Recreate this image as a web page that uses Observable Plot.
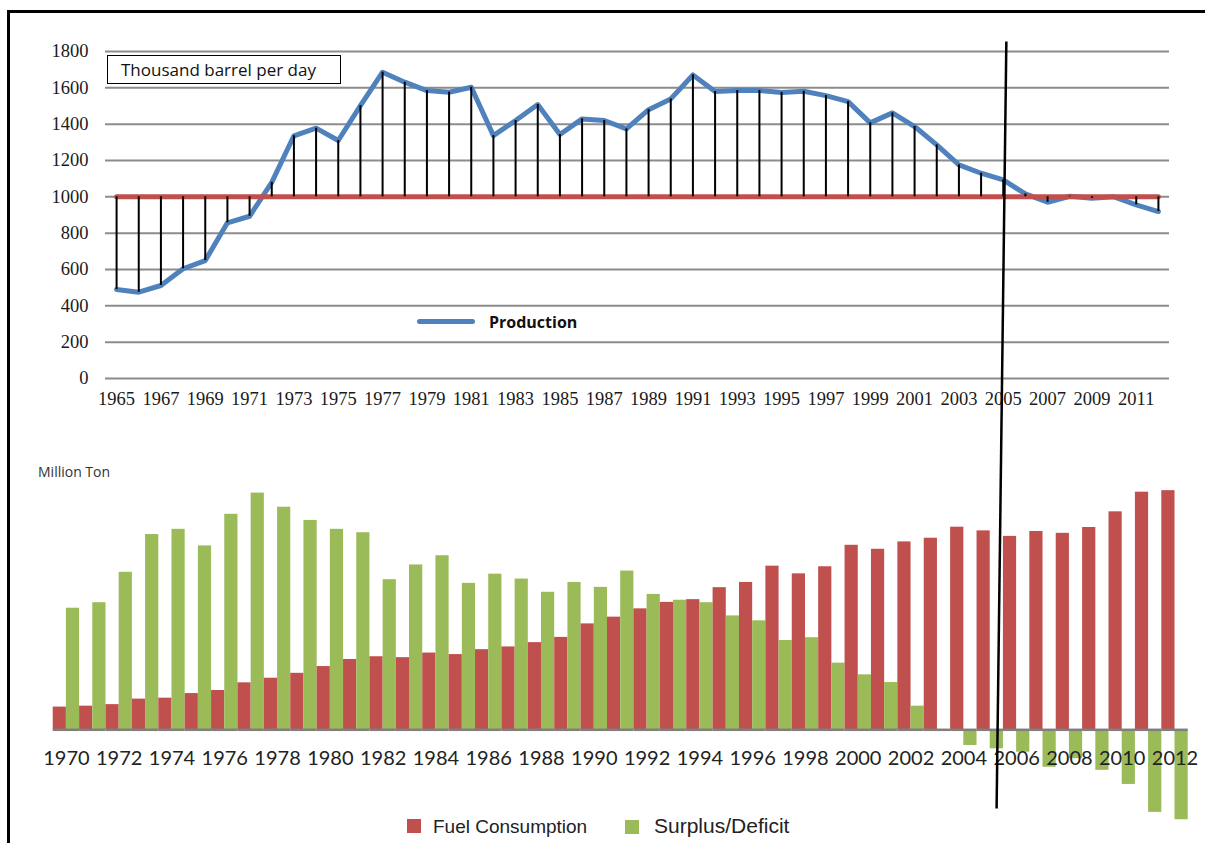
<!DOCTYPE html>
<html><head><meta charset="utf-8">
<script src="https://cdn.jsdelivr.net/npm/d3@7"></script>
<script src="https://cdn.jsdelivr.net/npm/@observablehq/plot@0.6"></script>
<style>
body{margin:0;background:#fff}
#page{position:relative;width:1205px;height:843px;overflow:hidden;background:#fff}
.abs{position:absolute;white-space:nowrap}
</style></head><body>
<div id="page">
  <div class="abs" style="left:7px;top:10px;width:1300px;height:900px;border-left:3px solid #000;border-top:3px solid #000;box-sizing:border-box"></div>
  <div id="bottom" class="abs" style="left:0;top:450px;z-index:1"></div>
  <div id="top" class="abs" style="left:0;top:0;z-index:2"></div>
  <div class="abs" style="left:107px;top:55px;width:234px;height:29px;border:1px solid #000;box-sizing:border-box;background:#fff;z-index:3"></div>
  <div class="abs" style="left:121px;top:60.5px;font:17px/17px 'Open Sans';color:#111;z-index:4">Thousand barrel per day</div>
  <div class="abs" style="left:417px;top:318.5px;width:58px;height:5px;border-radius:2.5px;background:#4f81bd;z-index:4"></div>
  <div class="abs" style="left:489px;top:313.5px;font:bold 16px/16px 'Open Sans';color:#111;z-index:4">Production</div>
  <div class="abs" style="left:38px;top:464.5px;font:14px/14px 'Open Sans';color:#333;z-index:4">Million Ton</div>
  <div class="abs" style="left:407px;top:819px;width:14px;height:14px;background:#c0504d;z-index:4"></div>
  <div class="abs" style="left:433px;top:817px;font:19px/19px 'Liberation Sans';color:#222;z-index:4">Fuel Consumption</div>
  <div class="abs" style="left:625px;top:820px;width:14px;height:14px;background:#9bbb59;z-index:4"></div>
  <div class="abs" style="left:654px;top:815px;font:21px/21px 'Liberation Sans';color:#222;z-index:4">Surplus/Deficit</div>
</div>
<script>
// ---- Top chart data (thousand barrel per day) ----
const prodYears = d3.range(1965, 2013);
const production = [490, 475, 512, 604, 649, 857, 893, 1080, 1336, 1378,
  1310, 1502, 1686, 1631, 1585, 1576, 1603, 1337, 1420, 1508,
  1343, 1429, 1420, 1374, 1480, 1539, 1671, 1580, 1585, 1585,
  1574, 1581, 1557, 1524, 1407, 1462, 1387, 1286, 1176, 1130,
  1093, 1016, 970, 1003, 992, 1000, 956, 919];
const benchmark = 1000;
const topXTicks = d3.range(1965, 2012, 2);
const topYTicks = d3.range(0, 1801, 200);
// annotation divider line (x in years, y in top chart units)
const dividerLine = [{x1: 2005.14, y1: 1855, x2: 2004.70, y2: -2367}];

// ---- Bottom chart data (million ton) ----
const barYears = d3.range(1970, 2013);
const fuelConsumption = [7.4, 7.7, 8.2, 10.0, 10.3, 11.8, 12.8, 15.3, 16.8, 18.4,
  20.6, 22.9, 23.8, 23.5, 25.0, 24.5, 26.1, 27.0, 28.4, 30.1,
  34.5, 36.7, 39.4, 41.5, 42.4, 46.3, 48.0, 53.3, 50.8, 53.1,
  60.1, 58.8, 61.2, 62.4, 66.0, 64.8, 63.0, 64.6, 64.0, 65.9,
  71.0, 77.4, 77.9];
const surplusDeficit = [39.6, 41.4, 51.3, 63.6, 65.3, 59.9, 70.2, 77.1, 72.5, 68.2,
  65.3, 64.2, 48.9, 53.7, 56.7, 47.7, 50.7, 49.1, 44.8, 48.0,
  46.4, 51.7, 44.1, 42.2, 41.4, 37.1, 35.5, 29.1, 30.0, 21.7,
  17.9, 15.4, 7.7, 0, -5.1, -6.2, -7.3, -12.2, -9.4, -13.2,
  -17.8, -26.9, -29.3];
const seriesNames = ["Fuel Consumption", "Surplus/Deficit"];
const barLabelYears = d3.range(1970, 2013, 2);

const prodRows = prodYears.map((year, i) => ({year, value: production[i]}));
const barRows = barYears.flatMap((year, i) => [
  {year, series: seriesNames[0], value: fuelConsumption[i]},
  {year, series: seriesNames[1], value: surplusDeficit[i]}
]);

const topChart = Plot.plot({
  width: 1205, height: 420,
  marginLeft: 105, marginRight: 36, marginTop: 51, marginBottom: 42,
  style: {background: "transparent", overflow: "visible", fontFamily: "'Liberation Serif', serif", fontSize: "18.5px", color: "#1a1a1a"},
  x: {domain: [1964.5, 2012.5], ticks: topXTicks, tickFormat: d => String(d), tickSize: 0, tickPadding: 13, label: null},
  y: {domain: [0, 1800], ticks: topYTicks, tickFormat: d => String(d), tickSize: 0, tickPadding: 17, label: null},
  marks: [
    Plot.ruleY(topYTicks, {stroke: "#8c8c8c", strokeWidth: 2}),
    Plot.line(prodRows, {x: "year", y: "value", stroke: "#4f81bd", strokeWidth: 5, strokeLinejoin: "round"}),
    Plot.line(prodRows, {x: "year", y: () => benchmark, stroke: "#c0504d", strokeWidth: 5}),
    Plot.ruleX(prodRows, {x: "year", y1: () => benchmark, y2: "value", stroke: "#000", strokeWidth: 2}),
    Plot.link(dividerLine, {x1: "x1", y1: "y1", x2: "x2", y2: "y2", stroke: "#000", strokeWidth: 2.5})
  ]
});
document.getElementById("top").appendChild(topChart);

const bottomChart = Plot.plot({
  width: 1205, height: 393,
  marginLeft: 52.7, marginRight: 17.3, marginTop: 33.7, marginBottom: 21.6,
  style: {background: "transparent", overflow: "visible"},
  fx: {domain: barYears, padding: 0, round: false, axis: null, label: null},
  x: {domain: seriesNames, padding: 0, round: false, axis: null},
  y: {domain: [-30, 80], axis: null},
  color: {domain: seriesNames, range: ["#c0504d", "#9bbb59"]},
  marks: [
    Plot.barY(barRows, {fx: "year", x: "series", y: "value", fill: "series", inset: 0}),
    Plot.ruleY([0], {stroke: "#7f7f7f", strokeWidth: 2.5}),
    Plot.text(barLabelYears, {fx: d => d, y: 0, text: d => String(d), dy: 29, fontFamily: "Lato", fontSize: 20, fill: "#222"})
  ]
});
document.getElementById("bottom").appendChild(bottomChart);
</script>
</body></html>
